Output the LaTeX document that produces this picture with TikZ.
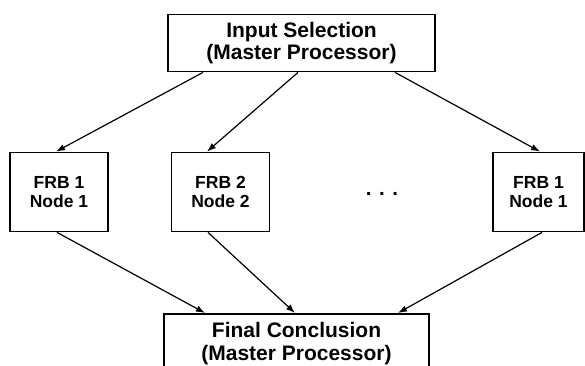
\documentclass[tikz,border=0pt]{standalone}
\usepackage{fontspec}
\setmainfont{Liberation Sans}
\usetikzlibrary{arrows.meta}
\begin{document}
\begin{tikzpicture}[x=1pt,y=-1pt,
  master/.style={draw,line width=1.8pt,inner xsep=0pt,inner ysep=0pt,align=center,
    font=\bfseries\fontsize{21}{22.5}\selectfont},
  frb/.style={draw,line width=1.8pt,inner sep=0pt,align=center,minimum height=79pt,
    font=\bfseries\fontsize{17.5}{19}\selectfont},
  link/.style={line width=1.2pt,-{Latex[length=9pt,width=6.5pt]}}]
\clip (0,0) rectangle (585,365);

% master processor: input selection
\node[master,minimum width=267pt,minimum height=57pt] (sel) at (301.5,43)
  {Input Selection\\(Master Processor)};

% fuzzy rule base nodes
\node[frb,minimum width=98pt] (f1) at (59,192) {FRB 1\\Node 1};
\node[frb,minimum width=98pt] (f2) at (220.5,192) {FRB 2\\Node 2};
\node[frb,minimum width=91pt] (f3) at (538.5,192) {FRB 1\\Node 1};
\node[font=\bfseries\fontsize{20.5}{23}\selectfont,inner sep=0pt,anchor=base] (dots) at (382,195) {. . .};

% master processor: final conclusion (runs past the lower edge)
\node[master,minimum width=265pt,inner ysep=8.5pt,anchor=north] (fin) at (296.5,313)
  {Final Conclusion\\(Master Processor)};

% distribution of the inputs
\draw[link] ([xshift=-98.5pt]sel.south) -- ([xshift=-3pt]f1.north);
\draw[link] ([xshift=-3.5pt]sel.south) -- ([xshift=-13.5pt]f2.north);
\draw[link] ([xshift=93.5pt]sel.south) -- ([xshift=1.5pt]f3.north);

% collection of the results
\draw[link] ([xshift=-2pt]f1.south) -- ([xshift=-91.5pt]fin.north);
\draw[link] ([xshift=-12.5pt]f2.south) -- ([xshift=-1.5pt]fin.north);
\draw[link] ([xshift=3.5pt]f3.south) -- ([xshift=101.5pt]fin.north);
\end{tikzpicture}
\end{document}
